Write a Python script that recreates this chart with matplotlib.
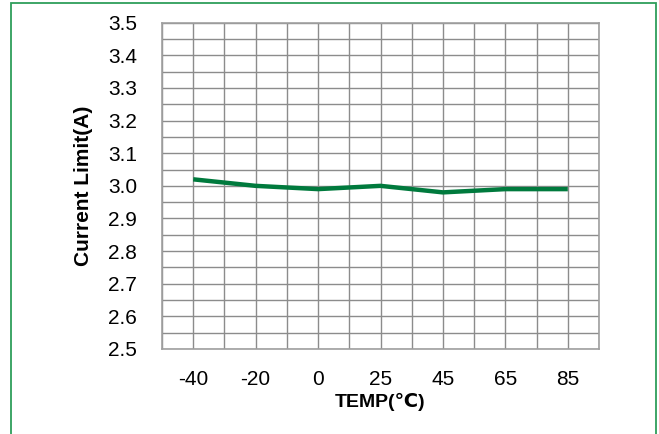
import numpy as np
import matplotlib
matplotlib.use("Agg")
import matplotlib.pyplot as plt
from matplotlib.patches import Rectangle

plt.rcParams["font.family"] = ["Liberation Sans", "DejaVu Sans"]

temps = ["-40", "-20", "0", "25", "45", "65", "85"]
current_limit = [3.02, 3.00, 2.99, 3.00, 2.98, 2.99, 2.99]
y_ticks = [2.5, 2.6, 2.7, 2.8, 2.9, 3.0, 3.1, 3.2, 3.3, 3.4, 3.5]

W, H = 659, 434
fig = plt.figure(figsize=(W / 100, H / 100), dpi=100)
ax = fig.add_axes([162 / W, 1 - 349 / H, (599 - 162) / W, (349 - 22.7) / H])

x = np.arange(len(temps))
ax.plot(x, current_limit, color="#007a3d", linewidth=3.2, solid_capstyle="butt", zorder=3)

ax.set_xlim(-0.5, len(temps) - 0.5)
ax.set_ylim(2.5, 3.5)
ax.set_xticks(x)
ax.set_xticklabels(temps)
ax.set_yticks(y_ticks)
ax.set_yticklabels([f"{v:.1f}" for v in y_ticks])
# extra grid lines between categories and at every 0.05
ax.set_xticks(np.arange(-0.5, len(temps), 1.0), minor=True)
ax.set_yticks(np.arange(2.55, 3.5, 0.1), minor=True)
ax.grid(True, which="both", color="#8c8c8c", linewidth=1.0)
ax.set_axisbelow(True)
ax.tick_params(which="both", length=0)
ax.tick_params(axis="y", pad=18, labelsize=15)
ax.tick_params(axis="x", pad=15, labelsize=15)
for s in ax.spines.values():
    s.set_color("#a0a0a0")
    s.set_linewidth(1.2)

ax.set_xlabel("TEMP(℃)", fontsize=14, fontweight="bold", labelpad=3)
ax.set_ylabel("Current Limit(A)", fontsize=15, fontweight="bold", labelpad=11)

fig.patches.append(Rectangle((10.5 / W, -0.05), (656 - 10.5) / W, 1.05 - 3.5 / H,
                             transform=fig.transFigure, fill=False,
                             edgecolor="#2e9e5b", linewidth=1.3, clip_on=False))

fig.savefig("out.png", dpi=100)
